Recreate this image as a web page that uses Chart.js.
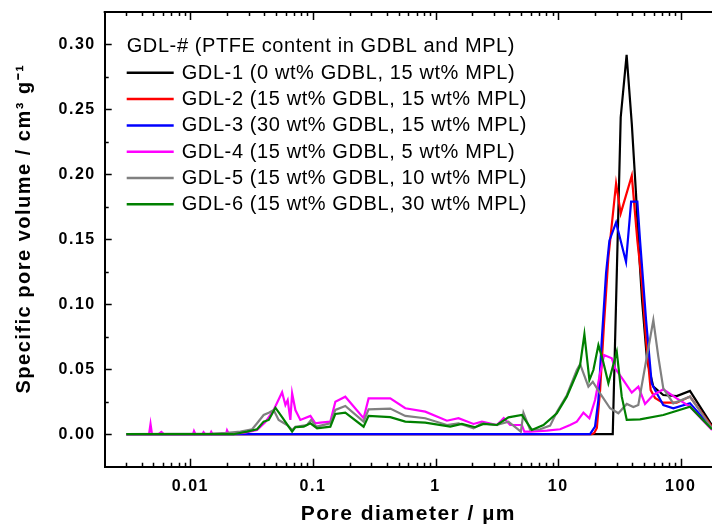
<!DOCTYPE html>
<html>
<head>
<meta charset="utf-8">
<script src="https://cdn.jsdelivr.net/npm/chart.js@4/dist/chart.umd.min.js"></script>
<style>
  body { margin: 0; background: #fff; }
  #myChart { display: block; }
</style>
</head>
<body>
<canvas id="myChart" width="712" height="527"></canvas>
<script>
// Pore size distributions of the six gas diffusion layers (diameter in µm, volume in cm3/g)
const seriesNames = [
    "GDL-1 (0 wt% GDBL, 15 wt% MPL)",
    "GDL-2 (15 wt% GDBL, 15 wt% MPL)",
    "GDL-3 (30 wt% GDBL, 15 wt% MPL)",
    "GDL-4 (15 wt% GDBL, 5 wt% MPL)",
    "GDL-5 (15 wt% GDBL, 10 wt% MPL)",
    "GDL-6 (15 wt% GDBL, 30 wt% MPL)",
];
const seriesColors = ["#000000", "#ff0000", "#0000ff", "#ff00ff", "#808080", "#008000"];
const legendTitle = "GDL-# (PTFE content in GDBL and MPL)";
const xTickLabels = [0.01, 0.1, 1, 10, 100];
const yTickLabels = [0, 0.05, 0.1, 0.15, 0.2, 0.25, 0.3];

const gdl1Diam = [0.003, 27.9, 32.4, 36.2, 39.9, 43.2, 45.1, 48.4, 53.1, 59.8, 72.1, 92.8, 119, 180];
const gdl1Vol = [0, 0, 0.244, 0.292, 0.239, 0.185, 0.149, 0.103, 0.057, 0.0366, 0.0302, 0.0294, 0.0333, 0.0068];

const gdl2Diam = [0.003, 18.8, 19.7, 20.7, 22.0, 23.7, 25.7, 29.7, 32.4, 39.9, 44.3, 48.1, 52.2, 56.9, 61.7, 71.3, 92.8, 119, 180];
const gdl2Vol = [0, 0, 0.001, 0.0048, 0.034, 0.0855, 0.136, 0.193, 0.170, 0.199, 0.149, 0.118, 0.0724, 0.034, 0.028, 0.0243, 0.0243, 0.029, 0.0056];

const gdl3Diam = [0.003, 18.2, 20.0, 21.3, 22.7, 24.6, 26.2, 29.7, 35.8, 39.4, 44.3, 46.6, 52.2, 58.0, 61.7, 72.1, 87.0, 119, 180];
const gdl3Vol = [0, 0, 0.0058, 0.0263, 0.0724, 0.124, 0.149, 0.163, 0.1326, 0.179, 0.179, 0.149, 0.0876, 0.0392, 0.034, 0.0225, 0.020, 0.0238, 0.0046];

const gdl4Diam = [0.003, 0.0046, 0.00473, 0.00486, 0.0055, 0.0058, 0.0061, 0.0105, 0.0107, 0.011,
    0.0125, 0.0128, 0.0132, 0.0145, 0.0148, 0.0152, 0.0195, 0.0199, 0.0205, 0.0272,
    0.035, 0.0409, 0.0478, 0.056, 0.0596, 0.0622, 0.0654, 0.0676, 0.0719, 0.0789,
    0.0953, 0.1046, 0.1149, 0.1386, 0.1523, 0.1836, 0.2589, 0.2844, 0.4273, 0.5664,
    0.8243, 1.238, 1.539, 2.04, 2.389, 3.166, 3.6, 4.062, 5.06, 5.3,
    5.913, 8.089, 10.38, 12.52, 14.21, 16.08, 17.99, 20.02, 22.0, 23.71,
    27.4, 29.14, 34.05, 39.87, 45.13, 51.17, 59.79, 72.14, 92.77, 119, 180];
const gdl4Vol = [0, 0, 0.0079, 0, 0, 0.0018, 0, 0, 0.0024, 0,
    0, 0.0016, 0, 0, 0.0018, 0, 0, 0.003, 0.0005, 0.001,
    0.0033, 0.0094, 0.0186, 0.0323, 0.0225, 0.0263, 0.011, 0.0315, 0.0186, 0.011,
    0.0141, 0.0084, 0.0089, 0.0097, 0.025, 0.0289, 0.0123, 0.0276, 0.0276, 0.020,
    0.0174, 0.0104, 0.0123, 0.0079, 0.0097, 0.0071, 0.0125, 0.0071, 0.0071, 0.002,
    0.002, 0.0028, 0.0038, 0.0071, 0.0097, 0.0166, 0.0123, 0.0263, 0.0469, 0.0609,
    0.0584, 0.0507, 0.0417, 0.032, 0.0366, 0.0233, 0.0302, 0.0346, 0.0276, 0.0212, 0.0033];

const gdl5Diam = [0.003, 0.015, 0.02, 0.0256, 0.0319, 0.035, 0.0396, 0.0436, 0.0478, 0.0525,
    0.0615, 0.0676, 0.0719, 0.0895, 0.0965, 0.1066, 0.1386, 0.1523, 0.1836, 0.2589,
    0.2844, 0.4273, 0.5664, 0.8243, 1.238, 1.539, 2.04, 2.389, 3.166, 3.935,
    4.966, 5.214, 5.913, 7.134, 8.606, 9.76, 11.77, 14.21, 15.11, 17.66,
    19.18, 22.0, 26.53, 31.0, 36.3, 41.1, 45.1, 51.2, 59.8, 65.7,
    72.1, 87.0, 119, 180];
const gdl5Vol = [0, 0.0005, 0.001, 0.002, 0.0038, 0.0084, 0.0148, 0.0166, 0.0187, 0.011,
    0.0071, 0.0033, 0.0058, 0.0071, 0.011, 0.0058, 0.0084, 0.0187, 0.0217, 0.0097,
    0.0192, 0.0197, 0.0141, 0.0123, 0.0071, 0.0084, 0.0046, 0.0084, 0.0071, 0.0097,
    0.002, 0.0164, 0.0033, 0.0038, 0.0066, 0.0171, 0.030, 0.0494, 0.054, 0.0366,
    0.0404, 0.0315, 0.020, 0.0161, 0.0233, 0.021, 0.0225, 0.0519, 0.0878, 0.0596,
    0.0353, 0.0238, 0.0289, 0.0046];

const gdl6Diam = [0.003, 0.0225, 0.029, 0.035, 0.0396, 0.0436, 0.0494, 0.056, 0.0676, 0.0719,
    0.084, 0.0953, 0.108, 0.1386, 0.1523, 0.1836, 0.2589, 0.2844, 0.4273, 0.5664,
    0.8243, 1.318, 1.641, 2.107, 2.462, 3.166, 3.935, 5.06, 6.105, 7.59,
    9.76, 11.77, 14.21, 15.11, 16.38, 17.99, 19.4, 21.31, 23.14, 25.7,
    27.91, 30.09, 33.04, 36.3, 46.59, 72.14, 119, 180];
const gdl6Vol = [0, 0, 0.002, 0.0038, 0.0097, 0.011, 0.0204, 0.0131, 0.002, 0.0054,
    0.0058, 0.0084, 0.0046, 0.0058, 0.0156, 0.0166, 0.0058, 0.0141, 0.0131, 0.0097,
    0.0089, 0.0058, 0.0079, 0.0054, 0.0079, 0.0071, 0.013, 0.0148, 0.0033, 0.0071,
    0.0161, 0.0289, 0.0469, 0.0532, 0.077, 0.0417, 0.0494, 0.0686, 0.0571, 0.0392,
    0.0519, 0.0634, 0.0289, 0.011, 0.0115, 0.0148, 0.0212, 0.0038];

const diameters = [gdl1Diam, gdl2Diam, gdl3Diam, gdl4Diam, gdl5Diam, gdl6Diam];
const volumes = [gdl1Vol, gdl2Vol, gdl3Vol, gdl4Vol, gdl5Vol, gdl6Vol];

const fontFamily = "'Liberation Sans', Arial, sans-serif";
Chart.defaults.font.family = fontFamily;
Chart.defaults.color = "#000";

// a little extra tracking on all axis text
const textSpacing = {
    id: "textSpacing",
    beforeUpdate(chart) { chart.ctx.letterSpacing = "1.5px"; },
    beforeDraw(chart) { chart.ctx.letterSpacing = "1.5px"; },
};

// fixed axis sizes, no extra room kept for overhanging labels
function fixSize(prop, size) {
    return scale => {
        scale[prop] = size;
        scale.paddingTop = 0;
        scale.paddingBottom = 0;
        scale.paddingLeft = 0;
        scale.paddingRight = 0;
    };
}

// top frame line and inward tick marks on the bottom, top and left sides
const axisFrame = {
    id: "axisFrame",
    afterDraw(chart) {
        const { ctx, chartArea: a, scales: { x, y } } = chart;
        ctx.save();
        ctx.strokeStyle = "#000";
        ctx.lineWidth = 2;
        ctx.beginPath();
        ctx.moveTo(a.left - 1, a.top);
        ctx.lineTo(a.right, a.top);
        ctx.stroke();

        ctx.lineWidth = 1.5;
        ctx.beginPath();
        for (let e = -3; e <= 2; e++) {
            for (let m = 1; m <= 9; m++) {
                const v = m * Math.pow(10, e);
                if (v <= x.min * 1.001 || v >= x.max) continue;
                const px = Math.round(x.getPixelForValue(v)) + 0.5;
                const len = m === 1 ? 8 : 4;
                ctx.moveTo(px, a.bottom);
                ctx.lineTo(px, a.bottom - len);
                ctx.moveTo(px, a.top);
                ctx.lineTo(px, a.top + len);
            }
        }
        for (let k = 1; k <= 13; k++) {
            const v = -0.025 + k * 0.025;
            const py = Math.round(y.getPixelForValue(v)) + 0.5;
            const len = k % 2 === 1 ? 7 : 4;
            ctx.moveTo(a.left, py);
            ctx.lineTo(a.left + len, py);
        }
        ctx.stroke();
        ctx.restore();
    },
};

// legend drawn inside the plot area, with a title row above the entries
const legendBox = {
    id: "legendBox",
    afterDraw(chart) {
        const { ctx, chartArea: a } = chart;
        const left = a.left + 22;
        const top = a.top + 34.5;
        ctx.save();
        ctx.letterSpacing = "0.6px";
        ctx.font = "20px " + fontFamily;
        ctx.fillStyle = "#000";
        ctx.textBaseline = "middle";
        ctx.textAlign = "left";
        ctx.fillText(legendTitle, left, top);
        chart.data.datasets.forEach((ds, i) => {
            const yy = top + 26.3 * (i + 1);
            ctx.strokeStyle = ds.borderColor;
            ctx.lineWidth = 2.5;
            ctx.beginPath();
            ctx.moveTo(left, yy);
            ctx.lineTo(left + 47, yy);
            ctx.stroke();
            ctx.fillText(ds.label, left + 55, yy + 0.5);
        });
        ctx.restore();
    },
};

new Chart(document.getElementById("myChart"), {
    type: "line",
    data: {
        datasets: seriesNames.map((name, i) => ({
            label: name,
            data: diameters[i].map((d, j) => ({ x: d, y: volumes[i][j] })),
            borderColor: seriesColors[i],
            backgroundColor: seriesColors[i],
            borderWidth: 2.2,
            pointRadius: 0,
            tension: 0,
            fill: false,
            order: seriesNames.length - i,
        })),
    },
    options: {
        responsive: false,
        animation: false,
        devicePixelRatio: 1,
        layout: { padding: { top: 12, right: 0, bottom: 0, left: 0 } },
        plugins: { legend: { display: false }, tooltip: { enabled: false } },
        scales: {
            x: {
                type: "logarithmic",
                min: 0.002,
                max: 180,
                afterFit: fixSize("height", 60.3),
                afterBuildTicks(scale) { scale.ticks = xTickLabels.map(v => ({ value: v })); },
                grid: { display: false, drawTicks: false },
                border: { display: true, color: "#000", width: 2 },
                ticks: {
                    font: { size: 16, weight: "bold" },
                    color: "#000",
                    padding: 10,
                    autoSkip: false,
                    maxRotation: 0,
                    callback: v => String(v),
                },
                title: {
                    display: true,
                    text: "Pore diameter / µm",
                    font: { size: 21, weight: "bold" },
                    color: "#000",
                    padding: { top: 0, bottom: 0 },
                },
            },
            y: {
                type: "linear",
                min: -0.025,
                max: 0.325,
                afterFit: fixSize("width", 104.7),
                afterBuildTicks(scale) { scale.ticks = yTickLabels.map(v => ({ value: v })); },
                grid: { display: false, drawTicks: false },
                border: { display: true, color: "#000", width: 2 },
                ticks: {
                    font: { size: 16, weight: "bold" },
                    color: "#000",
                    padding: 9,
                    callback: v => v.toFixed(2),
                },
                title: {
                    display: true,
                    text: "\u2003Specific pore volume / cm³ g⁻¹",
                    font: { size: 20, weight: "bold" },
                    color: "#000",
                    padding: { top: 12, bottom: 0 },
                },
            },
        },
    },
    plugins: [textSpacing, axisFrame, legendBox],
});
</script>
</body>
</html>
